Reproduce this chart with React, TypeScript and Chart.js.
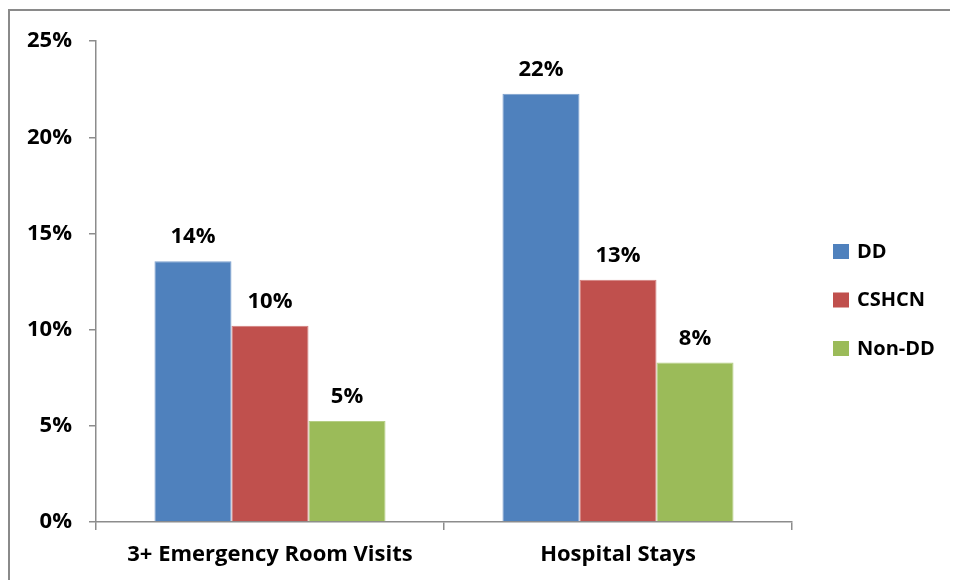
import React, { useEffect, useRef } from "react";
import { Chart, registerables } from "chart.js";

Chart.register(...registerables);

const categories = ["3+ Emergency Room Visits", "Hospital Stays"];
const seriesNames = ["DD", "CSHCN", "Non-DD"];
const ddValues = [13.56, 22.27];
const cshcnValues = [10.2, 12.6];
const nonDdValues = [5.25, 8.29];
const seriesColors = ["#4F81BD", "#C0504D", "#9BBB59"];
const seriesEdges = ["#7BA0CD", "#D27E7C", "#B5CE85"];
const yTicks = [0, 5, 10, 15, 20, 25];

const FONT = "'Open Sans', Lato, sans-serif";
const WEIGHT = "bold";

const valueLabels = {
  id: "valueLabels",
  afterDatasetsDraw(chart: any) {
    const ctx = chart.ctx;
    ctx.save();
    ctx.font = `${WEIGHT} 22px ${FONT}`;
    ctx.fillStyle = "#000";
    ctx.textAlign = "center";
    ctx.textBaseline = "alphabetic";
    chart.data.datasets.forEach((ds: any, i: number) => {
      const meta = chart.getDatasetMeta(i);
      meta.data.forEach((el: any, j: number) => {
        const v = ds.data[j];
        ctx.fillText(Math.round(v) + "%", el.x, el.y - 18);
      });
    });
    ctx.restore();
  },
};

const sideLegend = {
  id: "sideLegend",
  afterDraw(chart: any) {
    const ctx = chart.ctx;
    const area = chart.chartArea;
    ctx.save();
    ctx.font = `${WEIGHT} 20px ${FONT}`;
    ctx.textAlign = "left";
    ctx.textBaseline = "middle";
    chart.data.datasets.forEach((ds: any, i: number) => {
      const bx = area.right + 41;
      const by = 233 + i * 48.5;
      ctx.fillStyle = ds.backgroundColor;
      ctx.fillRect(bx, by, 16, 15);
      ctx.fillStyle = "#000";
      ctx.fillText(ds.label, bx + 24, by + 8);
    });
    ctx.restore();
  },
};

export default function App() {
  const ref = useRef<HTMLCanvasElement | null>(null);
  useEffect(() => {
    document.documentElement.style.overflow = "hidden";
    if (!ref.current) return;
    const seriesValues = [ddValues, cshcnValues, nonDdValues];
    const chart = new Chart(ref.current, {
      type: "bar",
      data: {
        labels: categories,
        datasets: seriesNames.map((name, i) => ({
          label: name,
          data: seriesValues[i],
          backgroundColor: seriesColors[i],
          borderColor: seriesEdges[i],
          borderWidth: { top: 1, left: 1, right: 1, bottom: 0 },
          barPercentage: 1,
          categoryPercentage: 0.664,
        })),
      },
      options: {
        animation: false,
        responsive: false,
        maintainAspectRatio: false,
        layout: { padding: { left: 0, top: 29, right: 166, bottom: 0 } },
        plugins: {
          legend: { display: false },
          tooltip: { enabled: false },
        },
        scales: {
          x: {
            offset: true,
            grid: {
              display: true,
              offset: true,
              drawOnChartArea: false,
              drawTicks: true,
              tickLength: 8,
              color: "#8c8c8c",
              lineWidth: 1.5,
            },
            border: { display: true, color: "#8c8c8c", width: 1.5 },
            ticks: {
              color: "#000",
              font: { family: FONT, size: 22, weight: WEIGHT },
              padding: 12,
              maxRotation: 0,
            },
            afterFit(s: any) {
              s.height = 50;
            },
          },
          y: {
            min: 0,
            max: 25,
            afterBuildTicks(s: any) {
              s.ticks = yTicks.map((v) => ({ value: v }));
            },
            grid: {
              display: true,
              drawOnChartArea: false,
              drawTicks: true,
              tickLength: 7,
              color: "#8c8c8c",
              lineWidth: 1.5,
            },
            border: { display: true, color: "#8c8c8c", width: 1.5 },
            ticks: {
              color: "#000",
              font: { family: FONT, size: 22, weight: WEIGHT },
              padding: 17,
              callback: (v: any) => v + "%",
            },
            afterFit(s: any) {
              s.width = 86;
            },
          },
        },
      },
      plugins: [valueLabels, sideLegend],
    } as any);
    return () => chart.destroy();
  }, []);

  return (
    <div
      style={{
        position: "relative",
        top: 1,
        width: 1000,
        height: 600,
        borderTop: "2px solid #8a8a8a",
        borderLeft: "2px solid #8a8a8a",
        background: "#fff",
      }}
    >
      <canvas ref={ref} width={948} height={561} style={{ display: "block", width: 948, height: 561 }} />
    </div>
  );
}
